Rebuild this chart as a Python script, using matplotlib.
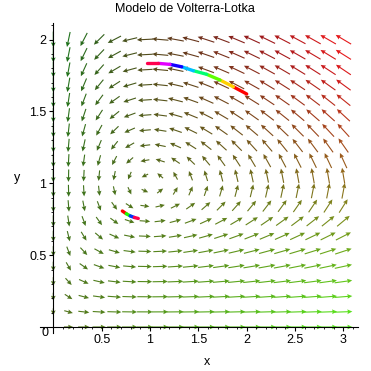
import numpy as np
import matplotlib
matplotlib.use("Agg")
import matplotlib.pyplot as plt
from matplotlib.collections import LineCollection
from matplotlib.ticker import MultipleLocator, FixedLocator
import colorsys

plt.rcParams['font.family'] = ['Liberation Sans', 'DejaVu Sans']

# ---- model: x' = a x - b x y ; y' = -c y + d x y ----
a_par, b_par, c_par, d_par = 1.0, 1.0, 0.3, 0.3
x_grid = np.linspace(0.0, 3.0, 20)
y_grid = np.linspace(0.0, 2.0, 20)

# ---- solution curves (in time order) ----
traj1_x = [2.000, 1.862, 1.724, 1.586, 1.448, 1.328, 1.207, 1.086, 0.966]
traj1_y = [1.621, 1.671, 1.718, 1.758, 1.783, 1.810, 1.827, 1.834, 1.834]
traj2_x = [0.714, 0.755, 0.795, 0.838, 0.879]
traj2_y = [0.807, 0.788, 0.773, 0.762, 0.755]

x_ticks = [0.5, 1.0, 1.5, 2.0, 2.5, 3.0]
x_ticklabels = ["0.5", "1", "1.5", "2", "2.5", "3"]
y_ticks = [0.5, 1.0, 1.5, 2.0]
y_ticklabels = ["0.5", "1", "1.5", "2"]
title = "Modelo de Volterra-Lotka"

W = H = 371
fig = plt.figure(figsize=(W / 100, H / 100), dpi=100)
ax_l, ax_r, ax_t, ax_b = 40, 358, 23, 333
ax = fig.add_axes([ax_l / W, (H - ax_b) / H, (ax_r - ax_l) / W, (ax_b - ax_t) / H])
xlim = (-0.1375, 3.151)
ylim = (-0.0417, 2.1148)
ax.set_xlim(*xlim)
ax.set_ylim(*ylim)
sx = (ax_r - ax_l) / (xlim[1] - xlim[0])
sy = (ax_b - ax_t) / (ylim[1] - ylim[0])

X, Y = np.meshgrid(x_grid, y_grid)
U = a_par * X - b_par * X * Y
V = -c_par * Y + d_par * X * Y
Us, Vs = U * sx, V * sy
M = np.hypot(Us, Vs)
mask = M > 1e-9
Lmin, Lmax, m0 = 6.0, 18.0, 50.0
L = Lmin + (Lmax - Lmin) * (1 - np.exp(-M / m0))
DX = np.where(mask, L * Us / np.where(mask, M, 1) / sx, 0)
DY = np.where(mask, L * Vs / np.where(mask, M, 1) / sy, 0)

R = np.where(V < 0, 85 + 110 * V, 85 + 60 * V + 60 * V ** 2)
G = np.where(U < 0, 110 + 40 * U, 110 + 43 * U) + np.where(V < 0, 20 * np.abs(V), 0)
R = np.clip(R / 255, 0.12, 0.90)
G = np.clip(G / 255, 0.10, 0.88)
B = np.full_like(R, 28 / 255)
cols = np.stack([R, G, B], axis=-1)[mask]

ax.quiver(X[mask], Y[mask], DX[mask], DY[mask], color=cols, angles='xy',
          scale_units='xy', scale=1, pivot='mid', width=0.0035,
          headwidth=4.2, headlength=4.5, headaxislength=4.0, zorder=1)

def rainbow_curve(xs, ys):
    pts = np.column_stack([xs, ys])
    segs = np.stack([pts[:-1], pts[1:]], axis=1)
    n = len(segs)
    hues = np.linspace(0.0, 0.95, n)
    colors = [colorsys.hsv_to_rgb(h, 1, 1) for h in hues]
    lc = LineCollection(segs, colors=colors, linewidths=2.4, capstyle='round', zorder=4)
    ax.add_collection(lc)

rainbow_curve(traj1_x, traj1_y)
rainbow_curve(traj2_x, traj2_y)

# axes through origin
for s in ['top', 'right']:
    ax.spines[s].set_visible(False)
ax.spines['left'].set_position(('data', 0))
ax.spines['bottom'].set_position(('data', 0))
for s in ['left', 'bottom']:
    ax.spines[s].set_linewidth(0.8)
    ax.spines[s].set_color('black')
    ax.spines[s].set_zorder(3)

ax.xaxis.set_major_locator(FixedLocator(x_ticks))
ax.set_xticklabels(x_ticklabels)
ax.yaxis.set_major_locator(FixedLocator(y_ticks))
ax.set_yticklabels(y_ticklabels)
ax.xaxis.set_minor_locator(MultipleLocator(0.1))
ax.yaxis.set_minor_locator(MultipleLocator(0.1))
ax.tick_params(which='major', direction='out', length=3, width=0.8, labelsize=9, pad=2)
ax.tick_params(which='minor', direction='out', length=1.5, width=0.6)

fig.text(48 / W, 1 - 332.5 / H, "0", ha='right', va='center', fontsize=9)
fig.text(185 / W, 1 - 9 / H, title, ha='center', va='center', fontsize=9)
fig.text(206.7 / W, 1 - 361.7 / H, "x", ha='center', va='center', fontsize=9)
fig.text(17 / W, 1 - 178 / H, "y", ha='center', va='center', fontsize=9)

fig.savefig("out.png", dpi=100)
